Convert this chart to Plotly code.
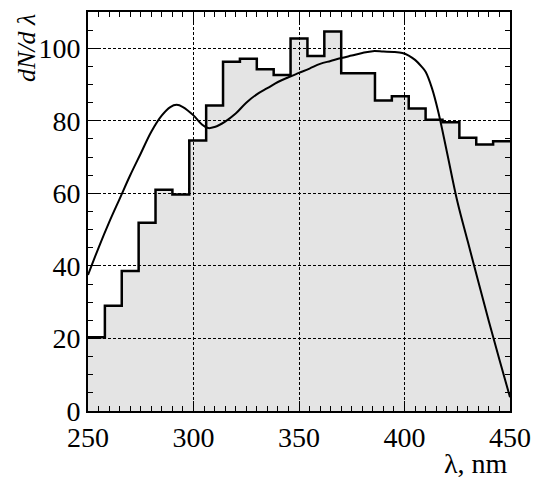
import plotly.graph_objects as go

# Histogram: 25 bins of width 8 nm from 250 to 450
bin_edges = [250, 258, 266, 274, 282, 290, 298, 306, 314, 322, 330, 338, 346,
             354, 362, 370, 378, 386, 394, 402, 410, 418, 426, 434, 442, 450]
hist_values = [20.3, 29.0, 38.6, 51.9, 61.0, 59.7, 74.6, 84.2, 96.3, 97.1,
               94.2, 92.6, 102.7, 97.9, 104.6, 93.1, 93.1, 85.6, 86.8, 83.4,
               80.3, 79.6, 75.3, 73.5, 74.4]

# Smooth curve
curve_x = [250, 255, 260, 265, 270, 275, 280, 285, 289, 292, 295, 300, 304,
           307, 310, 315, 320, 325, 330, 335, 340, 345, 350, 355, 360, 365,
           370, 375, 380, 385, 390, 395, 399, 402, 405, 408, 410, 413, 416,
           420, 425, 430, 435, 440, 445, 450]
curve_y = [37.5, 45.0, 52.0, 58.5, 65.0, 71.0, 77.0, 81.5, 83.8, 84.4, 83.8,
           81.5, 79.0, 78.0, 78.3, 79.8, 82.0, 85.0, 87.3, 89.0, 90.7, 92.0,
           93.2, 94.4, 95.7, 96.5, 97.3, 98.0, 98.7, 99.2, 99.1, 99.0, 98.7,
           98.0, 96.8, 95.0, 93.5, 89.0, 82.5, 71.7, 57.9, 46.7, 35.6, 24.7,
           14.1, 3.8]

x_tickvals = [250, 300, 350, 400, 450]
y_tickvals = [0, 20, 40, 60, 80, 100]

step_x = bin_edges
step_y = hist_values + [hist_values[-1]]

FAMILY = "Liberation Serif"

fig = go.Figure()
fig.add_trace(go.Scatter(
    x=step_x, y=step_y, mode="lines", line_shape="hv",
    line=dict(color="black", width=2.5),
    fill="tozeroy", fillcolor="rgba(0,0,0,0.105)",
    hoverinfo="skip", showlegend=False))
fig.add_trace(go.Scatter(
    x=curve_x, y=curve_y, mode="lines", line_shape="spline",
    line=dict(color="black", width=2), showlegend=False))

tick_font = dict(family=FAMILY, size=28, color="black")

xaxis = dict(
    range=[250, 450], tickmode="array", tickvals=x_tickvals,
    ticktext=[str(v) for v in x_tickvals], tickfont=tick_font,
    showline=True, linewidth=2, linecolor="black", mirror="allticks",
    ticks="inside", ticklen=10, tickwidth=1, tickcolor="black",
    showgrid=True, gridcolor="black", gridwidth=1, griddash="3px,2px",
    zeroline=False,
    minor=dict(dtick=5, tick0=250, ticks="inside", ticklen=5,
               tickcolor="black", showgrid=False),
)
yaxis = dict(
    range=[0, 110], tickmode="array", tickvals=y_tickvals,
    ticktext=[str(v) for v in y_tickvals], tickfont=tick_font,
    showline=True, linewidth=2, linecolor="black", mirror="allticks",
    ticks="inside", ticklen=10, tickwidth=1, tickcolor="black",
    showgrid=True, gridcolor="black", gridwidth=1, griddash="3px,2px",
    zeroline=False,
    minor=dict(dtick=5, tick0=0, ticks="inside", ticklen=5,
               tickcolor="black", showgrid=False),
)

fig.add_annotation(text="dN/d λ", xref="paper", yref="paper",
                   x=-0.147, y=1.0, xanchor="center", yanchor="top",
                   textangle=-90, showarrow=False,
                   font=dict(family=FAMILY, size=26, color="black",
                             style="italic"))
fig.add_annotation(text="λ, nm", xref="paper", yref="paper",
                   x=1.0, y=-0.132, xanchor="right", yanchor="middle",
                   showarrow=False,
                   font=dict(family=FAMILY, size=28, color="black"))

fig.update_layout(width=541, height=484,
                  xaxis=xaxis, yaxis=yaxis,
                  margin=dict(l=88, r=30, t=10, b=73),
                  plot_bgcolor="white", paper_bgcolor="white")

fig.write_html("out.html")
